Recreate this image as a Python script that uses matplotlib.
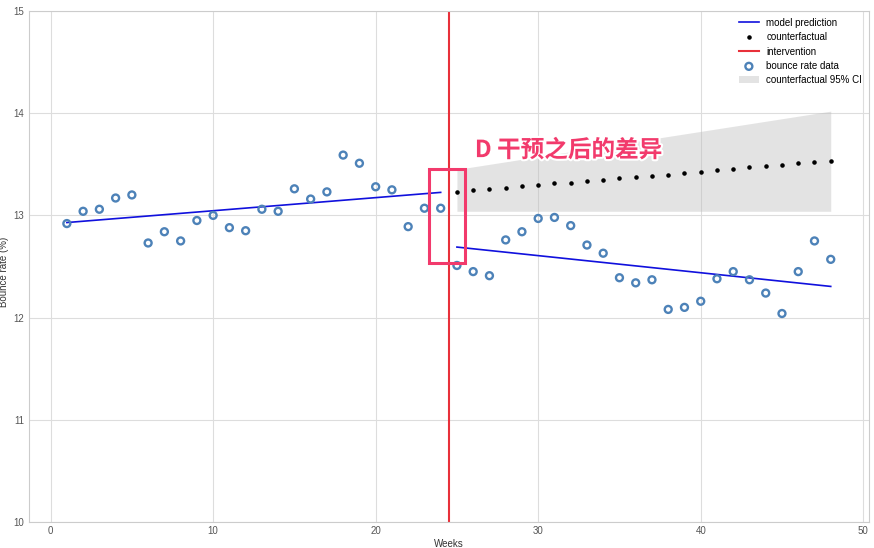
import matplotlib.pyplot as plt
import matplotlib.patheffects as pe
from matplotlib.patches import Rectangle

plt.rcParams['font.family'] = ['Liberation Sans', 'DejaVu Sans']

# weekly bounce rate observations
weeks_pre = list(range(1, 25))
bounce_pre = [12.92, 13.04, 13.06, 13.17, 13.20, 12.73, 12.84, 12.75, 12.95, 13.00,
              12.88, 12.85, 13.06, 13.04, 13.26, 13.16, 13.23, 13.59, 13.51, 13.28,
              13.25, 12.89, 13.07, 13.07]
weeks_post = list(range(25, 49))
bounce_post = [12.51, 12.45, 12.41, 12.76, 12.84, 12.97, 12.98, 12.90, 12.71, 12.63,
               12.39, 12.34, 12.37, 12.08, 12.10, 12.16, 12.38, 12.45, 12.37, 12.24,
               12.04, 12.45, 12.75, 12.57]

# counterfactual prediction after intervention
counterfactual = [13.23, 13.25, 13.26, 13.27, 13.29, 13.30, 13.32, 13.32, 13.34, 13.35,
                  13.37, 13.38, 13.39, 13.40, 13.41, 13.42, 13.44, 13.45, 13.47, 13.48,
                  13.49, 13.51, 13.52, 13.53]
ci_weeks = [25, 48]
ci_lower = [13.04, 13.04]
ci_upper = [13.45, 14.02]

# fitted model lines (start, end)
fit_pre_x = [1, 24]
fit_pre_y = [12.93, 13.225]
fit_post_x = [25, 48]
fit_post_y = [12.69, 12.305]

intervention_week = 24.5

fig = plt.figure(figsize=(8.74, 5.48), dpi=100)
ax = fig.add_axes([0.0328, 0.0474, 0.9614, 0.9326])
ax.set_facecolor("white")
ax.grid(True, color="#dddddd", linewidth=0.8)
ax.set_axisbelow(True)
for s in ax.spines.values():
    s.set_color("#cccccc")
    s.set_linewidth(0.8)
ax.tick_params(length=0, labelsize=7, colors="#555555", pad=3)

ax.plot(fit_pre_x, fit_pre_y, color="#1010dd", lw=1.2, label="model prediction")
ax.plot(fit_post_x, fit_post_y, color="#1010dd", lw=1.2)
ax.plot(weeks_post, counterfactual, "k.", ms=4.5, label="counterfactual")
ax.axvline(intervention_week, color="#e8303a", lw=1.5, label="intervention")
ax.scatter(weeks_pre + weeks_post, bounce_pre + bounce_post, s=25, facecolors="none",
           edgecolors="#4d82b8", linewidths=1.7, label="bounce rate data", zorder=3)
ax.fill_between(ci_weeks, ci_lower, ci_upper, color="#bbbbbb", alpha=0.4,
                lw=0, label="counterfactual 95% CI")

ax.set_ylim(10, 15)
ax.set_xticks([0, 10, 20, 30, 40, 50])
ax.set_yticks([10, 11, 12, 13, 14, 15])
ax.set_xlabel("Weeks", fontsize=7, color="#333333", labelpad=2)
ax.set_ylabel("Bounce rate (%)", fontsize=7, color="#333333")
ax.yaxis.set_label_coords(-0.024, 0.49)

ax.legend(loc="upper right", frameon=False, fontsize=7, handlelength=2,
          borderaxespad=0.3, labelspacing=0.45)

# highlight annotation
pink = "#f23a6c"
ax.add_patch(Rectangle((23.3, 12.53), 2.2, 0.92, fill=False, edgecolor=pink,
                       lw=2.2, zorder=5))
ax.text(26.1, 13.57, "D 干预之后的差异", color=pink, fontsize=17, fontweight="bold",
        family=["Noto Sans CJK SC", "DejaVu Sans"], va="baseline", zorder=6,
        path_effects=[pe.withStroke(linewidth=3, foreground="white")])

fig.savefig("out.png", dpi=100)
